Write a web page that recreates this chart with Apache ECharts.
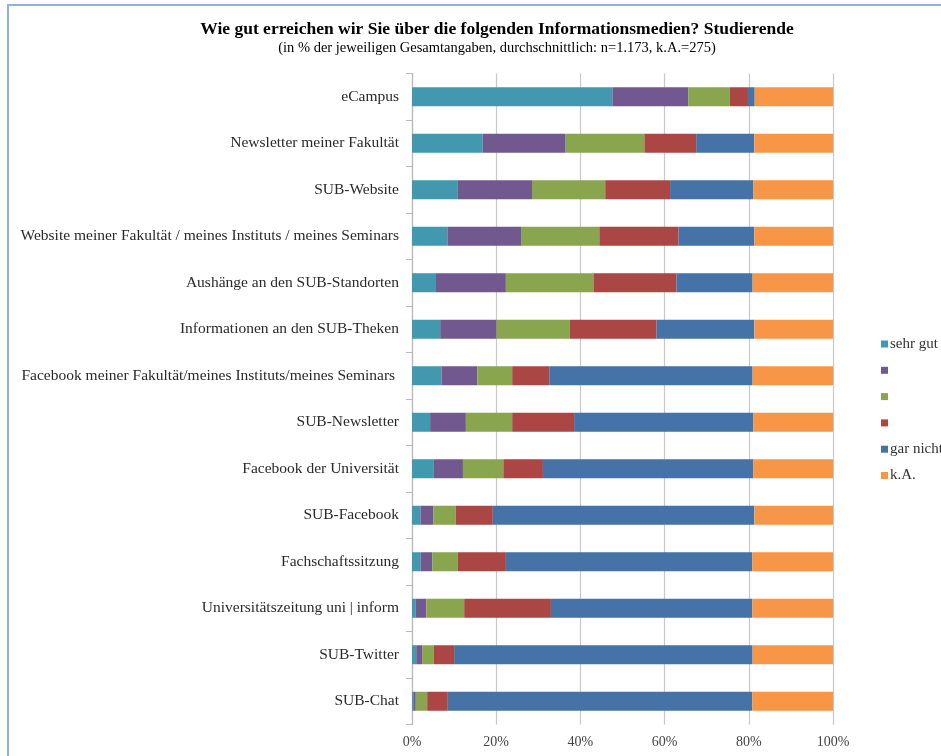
<!DOCTYPE html>
<html>
<head>
<meta charset="utf-8">
<script src="https://cdn.jsdelivr.net/npm/echarts@6/dist/echarts.min.js"></script>
<style>
  html, body { margin: 0; padding: 0; background: #fff; }
  #wrap { position: relative; width: 941px; height: 756px; overflow: hidden; }
  #frame { position: absolute; left: 7px; top: 4px; right: -10px; bottom: -10px;
           border-top: 2px solid #8eb1de; border-left: 2px solid #8eb1de; pointer-events: none; z-index: 2; }
  #chart { position: absolute; left: 0; top: 0; width: 941px; height: 756px; }
</style>
</head>
<body>
<div id="wrap">
  <div id="chart"></div>
  <div id="frame"></div>
</div>
<script>
const titleText = 'Wie gut erreichen wir Sie über die folgenden Informationsmedien? Studierende';
const subtitleText = '(in % der jeweiligen Gesamtangaben, durchschnittlich: n=1.173, k.A.=275)';

const categories = [
  'eCampus',
  'Newsletter meiner Fakultät',
  'SUB-Website',
  'Website meiner Fakultät / meines Instituts / meines Seminars',
  'Aushänge an den SUB-Standorten',
  'Informationen an den SUB-Theken',
  'Facebook meiner Fakultät/meines Instituts/meines Seminars ',
  'SUB-Newsletter',
  'Facebook der Universität',
  'SUB-Facebook',
  'Fachschaftssitzung',
  'Universitätszeitung uni | inform',
  'SUB-Twitter',
  'SUB-Chat'
];

const seriesNames = ['sehr gut', '2', '3', '4', 'gar nicht', 'k.A.'];
const hiddenLegendNames = ['2', '3', '4'];

const sehrGut  = [47.6, 16.8, 10.9,  8.4,  5.7,  6.7,  7.0,  4.3,  5.2,  2.0,  2.0,  0.9,  1.0,  0.3];
const stufe2   = [18.0, 19.7, 17.6, 17.5, 16.6, 13.4,  8.5,  8.5,  6.9,  3.1,  2.8,  2.5,  1.4,  0.6];
const stufe3   = [ 9.9, 18.7, 17.4, 18.6, 20.8, 17.4,  8.3, 11.0,  9.6,  5.3,  6.1,  9.0,  2.8,  2.7];
const stufe4   = [ 4.3, 12.3, 15.4, 18.8, 19.7, 20.6,  8.8, 14.7,  9.4,  8.8, 11.4, 20.6,  4.8,  4.9];
const garNicht = [ 1.6, 13.8, 19.8, 18.0, 18.1, 23.2, 48.3, 42.6, 50.0, 62.1, 58.5, 47.8, 70.9, 72.3];
const keineAng = [18.6, 18.7, 18.9, 18.7, 19.1, 18.7, 19.1, 18.9, 18.9, 18.7, 19.2, 19.2, 19.1, 19.2];

const xTicks = [0, 20, 40, 60, 80, 100];

const values = [sehrGut, stufe2, stufe3, stufe4, garNicht, keineAng];
const colors = ['#4198af', '#71588f', '#89a54e', '#aa4643', '#4572a7', '#f79646'];

const chart = echarts.init(document.getElementById('chart'));
const serif = '"Liberation Serif", "DejaVu Serif", serif';

chart.setOption({
  animation: false,
  backgroundColor: '#ffffff',
  title: {
    text: titleText,
    subtext: subtitleText,
    left: 492,
    textAlign: 'center',
    top: 15,
    itemGap: 3,
    textStyle: { fontFamily: serif, fontSize: 17.5, fontWeight: 'bold', color: '#000' },
    subtextStyle: { fontFamily: serif, fontSize: 14.5, color: '#000' }
  },
  legend: {
    orient: 'vertical',
    left: 876,
    top: 331,
    itemWidth: 7,
    itemHeight: 7,
    itemGap: 10.3,
    icon: 'rect',
    data: seriesNames,
    formatter: function (name) { return hiddenLegendNames.indexOf(name) >= 0 ? ' ' : name; },
    textStyle: { fontFamily: serif, fontSize: 15, lineHeight: 16, height: 16, color: '#333', padding: [0, 0, 0, -3] }
  },
  grid: { left: 412, right: 108, top: 73.5, bottom: 31.5, containLabel: false },
  xAxis: {
    type: 'value',
    min: 0, max: 100, interval: 20,
    axisLine: { show: false },
    axisTick: { show: false },
    splitLine: { show: true, lineStyle: { color: '#c8c8c8', width: 1.2 } },
    axisLabel: {
      fontFamily: serif, fontSize: 14, color: '#444', margin: 11,
      formatter: function (v) { return xTicks.indexOf(v) >= 0 ? v + '%' : ''; }
    }
  },
  yAxis: {
    type: 'category',
    inverse: true,
    data: categories,
    axisLine: { show: true, lineStyle: { color: '#b8b8b8', width: 1.2 } },
    axisTick: { show: true, length: 6, lineStyle: { color: '#b8b8b8' } },
    axisLabel: { fontFamily: serif, fontSize: 15.5, color: '#2a2a2a', margin: 13 }
  },
  series: seriesNames.map(function (n, i) {
    return {
      name: n,
      type: 'bar',
      stack: 'total',
      barWidth: 19,
      itemStyle: { color: colors[i] },
      data: values[i]
    };
  })
});
</script>
</body>
</html>
